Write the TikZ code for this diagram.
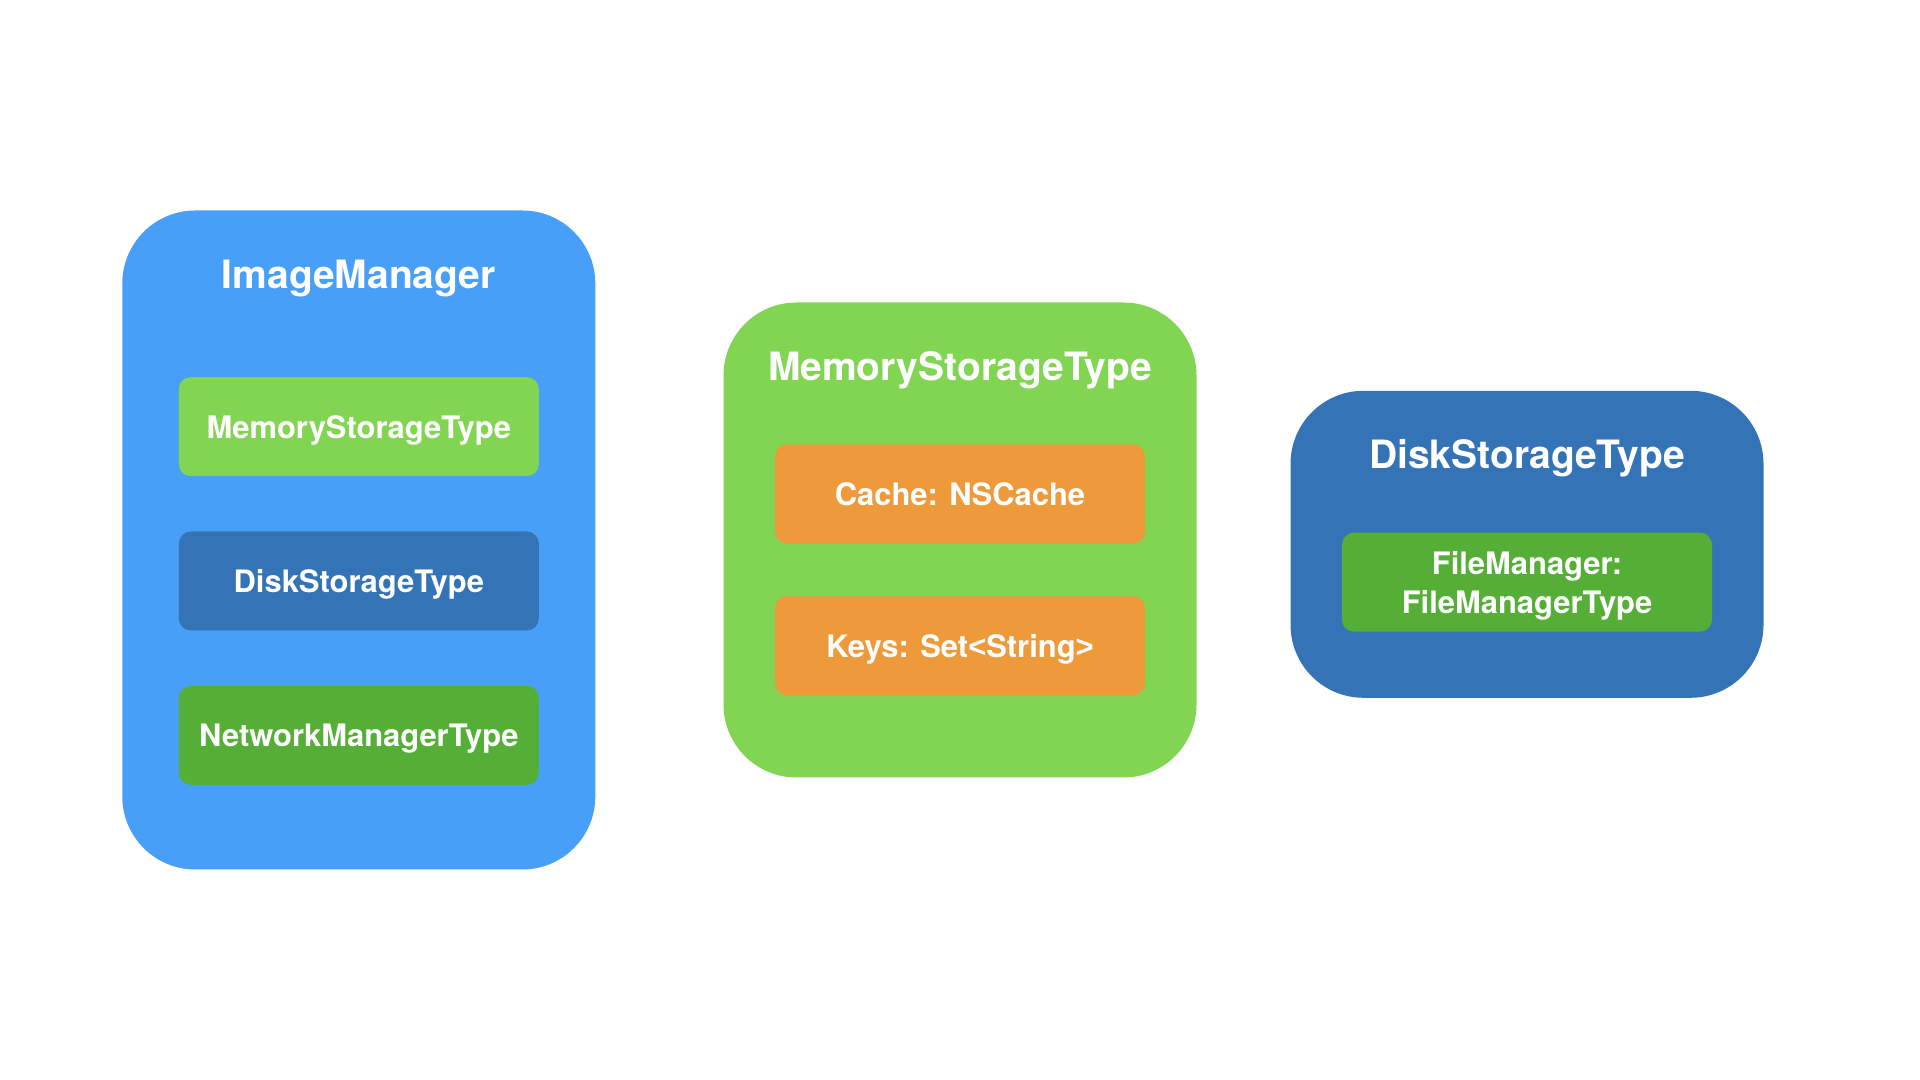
\documentclass[tikz,border=0pt]{standalone}
\usepackage{fontspec}
\setmainfont{TeX Gyre Heros}
\newfontfamily\anglefont{Liberation Sans}
\definecolor{imblue}{HTML}{489FF8}
\definecolor{diskblue}{HTML}{3474B6}
\definecolor{lightgreen}{HTML}{82D553}
\definecolor{darkgreen}{HTML}{55AE35}
\definecolor{cacheorange}{HTML}{EF9A3A}
\begin{document}
\begin{tikzpicture}
    [
    outer/.style={rectangle,rounded corners=7.3mm,minimum width=47.3mm,inner sep=0pt},
    part/.style={rectangle,rounded corners=1.2mm,minimum height=9.9mm,inner sep=0pt,text depth=0pt,text=white,align=center,font=\bfseries\fontsize{8.8}{11}\selectfont},
    title/.style={text=white,text depth=0pt,font=\bfseries\fontsize{11.1}{13}\selectfont}
    ]
    \useasboundingbox (0,0) rectangle (19.2,10.8);
    \node (im) at (3.588,5.40) [outer, fill=imblue, minimum height=65.9mm] {};
    \node (imtitle) at (3.588,8.057) [title] {ImageManager};
    \node (immem) at (3.588,6.533) [part, fill=lightgreen, minimum width=36mm] {MemoryStorageType};
    \node (imdisk) at (3.588,4.99) [part, fill=diskblue, minimum width=36mm] {DiskStorageType};
    \node (imnet) at (3.588,3.447) [part, fill=darkgreen, minimum width=36mm] {NetworkManagerType};
    \node (ms) at (9.60,5.40) [outer, fill=lightgreen, minimum height=47.5mm] {};
    \node (mstitle) at (9.60,7.139) [title] {MemoryStorageType};
    \node (mscache) at (9.60,5.859) [part, fill=cacheorange, minimum width=37mm] {Cache: NSCache};
    \node (mskeys) at (9.60,4.341) [part, fill=cacheorange, minimum width=37mm] {Keys: Set{\anglefont<}String{\anglefont>}};
    \node (ds) at (15.27,5.357) [outer, fill=diskblue, minimum height=30.7mm] {};
    \node (dstitle) at (15.27,6.257) [title] {DiskStorageType};
    \node (dsfile) at (15.27,4.978) [part, fill=darkgreen, minimum width=37mm] {FileManager:\\FileManagerType};
  \end{tikzpicture}
\end{document}
